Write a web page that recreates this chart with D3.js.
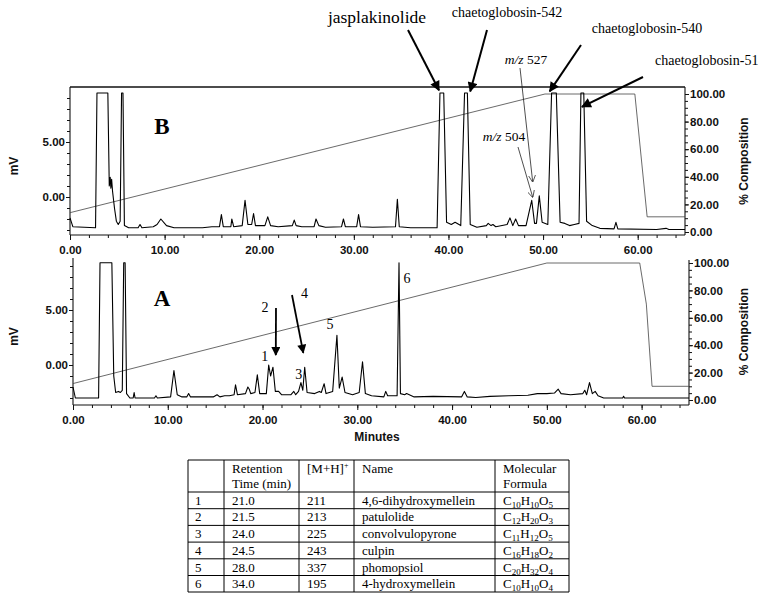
<!DOCTYPE html>
<html><head><meta charset="utf-8">
<script src="https://cdn.jsdelivr.net/npm/d3@7/dist/d3.min.js"></script>
<style>
body{margin:0;background:#fff;}
svg{display:block;}
.ax text{font-family:"Liberation Sans",Arial,sans-serif;font-size:11.5px;font-weight:bold;fill:#111;}
.ax line,.ax path{stroke:#111;}
.serif{font-family:"Liberation Serif","Times New Roman",serif;fill:#000;}
</style></head>
<body><svg id="c" width="762" height="598"></svg>
<script>
// ---------- DATA ----------
// Panel B chromatogram (time in min, signal in mV)
const timeB = [0.0,0.3,2.7,2.85,4.0,4.15,4.25,4.32,4.4,4.5,4.7,4.9,5.1,5.3,5.45,5.6,5.75,6.2,7.2,7.4,7.6,8.8,9.2,9.6,10.2,11,14,15,15.8,16.0,16.2,17.0,17.1,17.3,18.2,18.5,18.8,19.2,19.4,19.6,20.6,20.9,21.2,22,23.5,23.7,23.9,24.5,25.8,26.0,26.3,27,28.7,28.9,29.1,30.3,30.5,30.7,32,34.4,34.6,34.8,36,38.8,39.1,39.5,39.8,40.3,40.7,41.3,41.7,42.0,42.3,43,44.0,44.2,44.5,44.7,45,46.2,46.5,46.8,47.1,47.4,48.2,48.8,49.1,49.3,49.6,49.9,50.5,50.9,51.4,51.8,52.3,52.8,53.3,53.8,54.0,54.3,54.6,55.2,56,57.5,57.7,57.9,62,63,63.3,65];
const mvB = [-1.9,-2.7,-2.8,9.45,9.45,1.0,1.8,0.8,1.6,0.5,-1.0,-2.2,-2.5,-2.2,9.45,9.45,-2.6,-2.8,-2.8,-2.5,-2.8,-2.7,-2.5,-2.0,-2.6,-2.8,-2.8,-2.7,-2.7,-1.6,-2.7,-2.7,-2.0,-2.7,-2.6,-0.3,-2.5,-2.5,-1.5,-2.6,-2.6,-1.8,-2.6,-2.7,-2.6,-2.1,-2.6,-2.7,-2.7,-2.0,-2.6,-2.75,-2.7,-2.0,-2.7,-2.7,-1.6,-2.7,-2.75,-2.7,-0.2,-2.7,-2.8,-2.8,9.45,9.45,-2.3,-2.5,-2.3,-2.6,9.45,9.45,-2.5,-2.75,-2.6,-2.4,-2.6,-2.5,-2.7,-2.5,-1.9,-2.6,-2.0,-2.6,-2.6,-0.3,-2.4,-2.4,0.1,-2.3,-2.5,9.45,9.45,-2.3,-2.4,-2.6,-2.5,-2.4,9.45,9.45,-2.2,-2.6,-2.85,-2.9,-2.3,-2.9,-2.95,-2.85,-2.95,-2.95];
// Panel A chromatogram
const timeA = [0.0,0.25,2.7,2.85,4.1,4.3,4.5,4.8,5.0,5.2,5.35,5.5,5.65,6.0,6.35,6.45,6.55,8.6,8.75,8.9,10.3,10.65,11.0,11.5,12.0,12.2,12.4,14.8,15.2,15.5,16.0,16.5,17.0,17.15,17.35,18.2,18.45,18.6,18.75,19.2,19.45,19.7,20.4,20.65,20.85,21.1,21.35,21.7,22.0,23.0,23.3,23.5,23.8,24.05,24.25,24.45,24.7,25.5,26.0,26.2,26.5,26.7,27.4,27.85,28.1,28.4,28.7,29.5,30.2,30.55,30.85,31.5,32.8,33.0,33.2,34.2,34.4,34.55,35.0,35.2,36,38,41.0,41.3,41.6,42.5,44,46,48,49,50,50.8,51.2,51.5,52.5,53.8,54.0,54.2,54.5,54.8,55.1,55.4,56,58,58.1,58.2,65];
const mvA = [-2.0,-3.0,-3.0,9.3,9.3,-1.0,-2.5,-2.4,-2.5,-2.3,9.3,9.3,-2.6,-3.0,-3.0,-2.5,-3.0,-3.0,-2.8,-3.0,-2.9,-0.5,-2.7,-2.9,-2.9,-2.6,-2.9,-2.9,-2.7,-2.9,-2.8,-2.8,-2.7,-1.8,-2.7,-2.6,-2.0,-2.2,-2.6,-2.5,-0.9,-2.6,-2.6,0.0,-1.0,-0.2,-2.4,-2.4,-2.7,-2.7,-2.4,-2.7,-2.4,-1.6,-2.3,-0.2,-2.5,-2.6,-2.4,-2.5,-1.7,-2.6,-2.4,2.7,-2.1,-1.1,-2.5,-2.7,-2.5,0.3,-2.6,-2.8,-2.9,-2.4,-2.8,-2.8,9.3,-2.6,-2.7,-2.6,-2.9,-2.85,-2.9,-2.4,-2.9,-2.95,-2.85,-2.8,-2.75,-2.6,-2.6,-2.55,-2.2,-2.6,-2.7,-2.6,-2.3,-2.7,-1.6,-2.6,-2.4,-2.8,-3.0,-3.0,-2.85,-3.0,-3.0];
// Gradient (% composition)
const gradTimeB = [0,50.2,59.7,61.0,65];
const gradPctB = [14,100,100,11,11];
const gradTimeA = [0,50,59.8,60.5,61.1,65];
const gradPctA = [12,100,100,70,10,10];
// Axis ticks
const xMajor = [0,10,20,30,40,50,60];
const mvMajor = [0,5];
const pctMajor = [0,20,40,60,80,100];
// Table
const tblHead = [["",""],["Retention","Time (min)"],["[M+H]+",""],["Name",""],["Molecular","Formula"]];
const tblNo = ["1","2","3","4","5","6"];
const tblRT = ["21.0","21.5","24.0","24.5","28.0","34.0"];
const tblMH = ["211","213","225","243","337","195"];
const tblName = ["4,6-dihydroxymellein","patulolide","convolvulopyrone","culpin","phomopsiol","4-hydroxymellein"];
const tblFormula = ["C10H10O5","C12H20O3","C11H12O5","C16H18O2","C20H32O4","C10H10O4"];
// Annotations (tip at time/mV)
const annB = [
 {text:"jasplakinolide", t:39.0, v:9.7, tx:408, ty:30, lx:377, ly:23, size:17.5, anchor:"middle"},
 {text:"chaetoglobosin-542", t:42.3, v:9.6, tx:487, ty:30, lx:507, ly:17, size:14, anchor:"middle"},
 {text:"chaetoglobosin-540", t:50.7, v:9.6, tx:581, ty:45, lx:647, ly:33, size:14, anchor:"middle"},
 {text:"chaetoglobosin-51", t:54.1, v:8.2, tx:643, ty:77, lx:655, ly:65, size:14, anchor:"start"},
 {text:"527", t:48.9, v:1.4, tx:520, ty:68, lx:526, ly:64, size:13.5, mz:true},
 {text:"504", t:48.9, v:0.0, tx:518, ty:147, lx:504, ly:141, size:13.5, mz:true}
];
const annA = [
 {t:21.4, v:0.9, tx:276, ty:308},
 {t:24.3, v:1.1, tx:292, ty:295}
];
const peakLabelsA = [
 {text:"1", t:20.65, v:0.0, dx:-4, dy:-4},
 {text:"2", t:21.1, v:4.8, dx:-8, dy:0},
 {text:"3", t:24.45, v:-0.2, dx:-6, dy:12},
 {text:"4", t:24.0, v:6.1, dx:4, dy:0},
 {text:"5", t:27.85, v:2.7, dx:-7, dy:-6},
 {text:"6", t:34.4, v:9.3, dx:8, dy:20}
];

// ---------- DRAW ----------
const svg = d3.select("#c");
svg.append("rect").attr("width",762).attr("height",598).attr("fill","#fff");
const defs = svg.append("defs");
defs.append("marker").attr("id","ah").attr("viewBox","0 0 10 10").attr("refX",9).attr("refY",5)
 .attr("markerWidth",5.5).attr("markerHeight",5).attr("orient","auto").attr("markerUnits","strokeWidth")
 .append("path").attr("d","M0,0L10,5L0,10z").attr("fill","#000");
defs.append("marker").attr("id","thin").attr("viewBox","0 0 10 10").attr("refX",9).attr("refY",5)
 .attr("markerWidth",9).attr("markerHeight",9).attr("orient","auto").attr("markerUnits","strokeWidth")
 .append("path").attr("d","M0,0L10,5L0,10").attr("fill","none").attr("stroke","#222").attr("stroke-width",1);

function panel(cfg){
  const {x0,x1,yTop,yBot,mv0,mv5,p0,p100,time,mv,gT,gP,top} = cfg;
  const x = d3.scaleLinear().domain([0,65]).range([x0,x1]);
  const pxPerMv = (mv0-mv5)/5;
  const y = d3.scaleLinear().domain([(mv0-yBot)/pxPerMv,(mv0-yTop)/pxPerMv]).range([yBot,yTop]);
  const yp = d3.scaleLinear().domain([0,100]).range([p0,p100]);
  const g = svg.append("g");
  // frame
  const fr = g.append("g").attr("stroke","#111").attr("stroke-width",1.1);
  fr.append("line").attr("x1",x0).attr("x2",x1).attr("y1",yBot).attr("y2",yBot);
  fr.append("line").attr("x1",x0).attr("x2",x0).attr("y1",yTop).attr("y2",yBot);
  fr.append("line").attr("x1",x1).attr("x2",x1).attr("y1",yTop+ (top?0:2)).attr("y2",yBot);
  if(top) fr.append("line").attr("x1",x0).attr("x2",x1).attr("y1",yTop).attr("y2",yTop).attr("stroke-width",1.6);
  // x axis
  const xa = g.append("g").attr("class","ax").attr("transform",`translate(0,${yBot})`);
  xa.call(d3.axisBottom(x).tickValues(d3.range(0,66,2)).tickSize(3).tickSizeOuter(0).tickFormat(""));
  xa.select(".domain").remove();
  const xb = g.append("g").attr("class","ax").attr("transform",`translate(0,${yBot})`);
  xb.call(d3.axisBottom(x).tickValues(xMajor).tickSize(5).tickSizeOuter(0).tickFormat(d3.format(".2f")));
  xb.select(".domain").remove();
  xb.selectAll("text").attr("dy","0.95em");
  // left axis
  const la = g.append("g").attr("class","ax").attr("transform",`translate(${x0},0)`);
  la.call(d3.axisLeft(y).tickValues(d3.range(-3,10,1)).tickSize(3).tickFormat(""));
  la.select(".domain").remove();
  const lb = g.append("g").attr("class","ax").attr("transform",`translate(${x0},0)`);
  lb.call(d3.axisLeft(y).tickValues(mvMajor).tickSize(4).tickPadding(1).tickFormat(d3.format(".2f")));
  lb.select(".domain").remove();
  // right axis
  const ra = g.append("g").attr("class","ax").attr("transform",`translate(${x1},0)`);
  ra.call(d3.axisRight(yp).tickValues(d3.range(0,101,5)).tickSize(3).tickFormat(""));
  ra.select(".domain").remove();
  const rb = g.append("g").attr("class","ax").attr("transform",`translate(${x1},0)`);
  rb.call(d3.axisRight(yp).tickValues(pctMajor).tickSize(4).tickPadding(1).tickFormat(d3.format(".2f")));
  rb.select(".domain").remove();
  // gradient line
  g.append("path").datum(d3.zip(gT,gP)).attr("fill","none").attr("stroke","#444").attr("stroke-width",0.8)
   .attr("d",d3.line().x(d=>x(d[0])).y(d=>yp(d[1])));
  // chromatogram
  g.append("path").datum(d3.zip(time,mv)).attr("fill","none").attr("stroke","#000").attr("stroke-width",1.1)
   .attr("stroke-linejoin","round").attr("d",d3.line().x(d=>x(d[0])).y(d=>y(d[1])));
  // axis titles
  const midY = (yTop+yBot)/2;
  g.append("text").attr("transform",`translate(18,${midY+5}) rotate(-90)`).attr("text-anchor","middle")
   .style("font-family","Liberation Sans,Arial,sans-serif").style("font-size","12px").style("font-weight","bold").attr("fill","#111").text("mV");
  g.append("text").attr("transform",`translate(748,${midY}) rotate(-90)`).attr("text-anchor","middle")
   .style("font-family","Liberation Sans,Arial,sans-serif").style("font-size","12px").style("font-weight","bold").attr("fill","#111").text("% Composition");
  return {x,y,g};
}

const B = panel({x0:70,x1:685,yTop:87,yBot:235,mv0:197,mv5:142,p0:232,p100:94,time:timeB,mv:mvB,gT:gradTimeB,gP:gradPctB,top:true});
const A = panel({x0:73,x1:689,yTop:258,yBot:405,mv0:365,mv5:310,p0:400,p100:263,time:timeA,mv:mvA,gT:gradTimeA,gP:gradPctA,top:false});

// panel letters
svg.append("text").attr("class","serif").attr("x",162).attr("y",134).attr("text-anchor","middle")
 .style("font-size","23px").style("font-weight","bold").text("B");
svg.append("text").attr("class","serif").attr("x",162).attr("y",306).attr("text-anchor","middle")
 .style("font-size","23px").style("font-weight","bold").text("A");
// Minutes
svg.append("text").attr("x",377).attr("y",441).attr("text-anchor","middle")
 .style("font-family","Liberation Sans,Arial,sans-serif").style("font-size","12px").style("font-weight","bold").attr("fill","#111").text("Minutes");

// B annotations
annB.forEach(a=>{
  const tipX = B.x(a.t), tipY = B.y(a.v);
  if(a.mz){
    svg.append("line").attr("x1",a.tx).attr("y1",a.ty).attr("x2",tipX).attr("y2",tipY)
      .attr("stroke","#222").attr("stroke-width",0.8).attr("marker-end","url(#thin)");
    const t = svg.append("text").attr("class","serif").attr("x",a.lx).attr("y",a.ly).attr("text-anchor","middle").style("font-size",a.size+"px");
    t.append("tspan").style("font-style","italic").text("m/z");
    t.append("tspan").text(" "+a.text);
  } else {
    svg.append("line").attr("x1",a.tx).attr("y1",a.ty).attr("x2",tipX).attr("y2",tipY)
      .attr("stroke","#000").attr("stroke-width",2).attr("marker-end","url(#ah)");
    svg.append("text").attr("class","serif").attr("x",a.lx).attr("y",a.ly).attr("text-anchor",a.anchor)
      .style("font-size",a.size+"px").text(a.text);
  }
});
// A annotations
annA.forEach(a=>{
  svg.append("line").attr("x1",a.tx).attr("y1",a.ty).attr("x2",A.x(a.t)).attr("y2",A.y(a.v))
    .attr("stroke","#000").attr("stroke-width",1.8).attr("marker-end","url(#ah)");
});
peakLabelsA.forEach(p=>{
  svg.append("text").attr("class","serif").attr("x",A.x(p.t)+p.dx).attr("y",A.y(p.v)+p.dy)
   .attr("text-anchor","middle").style("font-size","14px").text(p.text);
});

// ---------- TABLE ----------
const colX = [188,224,299,354,495,569];
const rowY = [460,492,508.7,525.4,542.1,558.8,575.5,592];
const tg = svg.append("g");
colX.forEach(cx=>tg.append("line").attr("x1",cx).attr("x2",cx).attr("y1",rowY[0]).attr("y2",rowY[rowY.length-1]).attr("stroke","#000").attr("stroke-width",1));
rowY.forEach(ry=>tg.append("line").attr("x1",colX[0]).attr("x2",colX[colX.length-1]).attr("y1",ry).attr("y2",ry).attr("stroke","#000").attr("stroke-width",1));
const fs = "13px";
tblHead.forEach((h,i)=>{
  if(h[0]==="[M+H]+"){
    const t = tg.append("text").attr("class","serif").attr("x",colX[i]+8).attr("y",473).style("font-size",fs);
    t.append("tspan").text("[M+H]");
    t.append("tspan").attr("dy",-5).style("font-size","8px").text("+");
  } else {
    tg.append("text").attr("class","serif").attr("x",colX[i]+8).attr("y",473).style("font-size",fs).text(h[0]);
    tg.append("text").attr("class","serif").attr("x",colX[i]+8).attr("y",488).style("font-size",fs).text(h[1]);
  }
});
const cols = [tblNo,tblRT,tblMH,tblName];
tblNo.forEach((_,r)=>{
  const yb = rowY[r+2]-4;
  cols.forEach((c,i)=>{
    tg.append("text").attr("class","serif").attr("x",colX[i]+(i===0?7:8)).attr("y",yb).style("font-size",fs).text(c[r]);
  });
  const t = tg.append("text").attr("class","serif").attr("x",colX[4]+8).attr("y",yb).style("font-size",fs);
  const parts = tblFormula[r].match(/[A-Z][a-z]?|\d+/g);
  let sub=false;
  parts.forEach(p=>{
    if(/\d/.test(p)){ t.append("tspan").attr("dy",sub?0:3).style("font-size","9px").text(p); sub=true; }
    else { t.append("tspan").attr("dy",sub?-3:0).text(p); sub=false; }
  });
});
</script></body></html>
